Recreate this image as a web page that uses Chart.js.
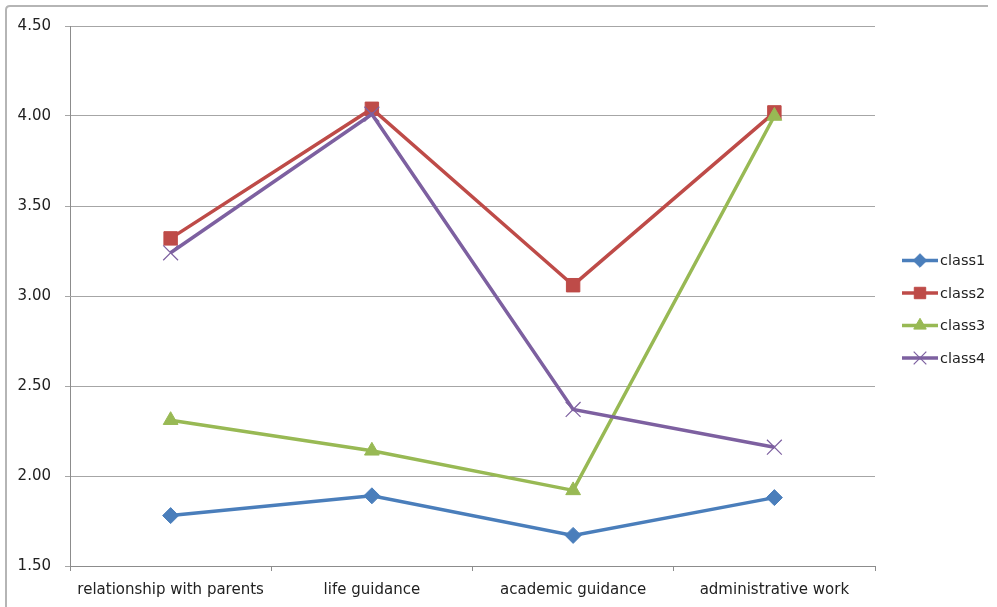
<!DOCTYPE html>
<html>
<head>
<meta charset="utf-8">
<script src="https://cdn.jsdelivr.net/npm/chart.js@4/dist/chart.umd.min.js"></script>
<style>
    html, body { margin: 0; padding: 0; background: #fff; }
    #wrap { width: 997px; height: 607px; }
</style>
</head>
<body>
<div id="wrap"><canvas id="myLineChart" width="997" height="607"></canvas></div>
<script>
const categories = ['relationship with parents', 'life guidance', 'academic guidance', 'administrative work'];
const seriesNames = ['class1', 'class2', 'class3', 'class4'];
const class1 = [1.78, 1.89, 1.67, 1.88];
const class2 = [3.32, 4.04, 3.06, 4.02];
const class3 = [2.31, 2.14, 1.92, 4.00];
const class4 = [3.24, 4.01, 2.37, 2.16];
const yTicks = [1.5, 2.0, 2.5, 3.0, 3.5, 4.0, 4.5];

const colors = ['#4A7EBB', '#BE4B48', '#98B954', '#7D60A0'];
const markers = ['rectRot', 'rect', 'triangle', 'crossRot'];
const radii = [8, 9.5, 8.5, 10.5];
const markerBorder = [1, 1, 1, 1.2];

const fontFamily = '"DejaVu Sans", sans-serif';

function makeSet(i, data) {
    return {
        label: seriesNames[i],
        data: data,
        borderColor: colors[i],
        backgroundColor: colors[i],
        borderWidth: 3.5,
        tension: 0,
        fill: false,
        pointStyle: markers[i],
        pointRadius: radii[i],
        pointHoverRadius: radii[i],
        pointBackgroundColor: colors[i],
        pointBorderColor: colors[i],
        pointBorderWidth: markerBorder[i],
        order: 4 - i
    };
}

// frame + legend drawn like the excel chart
const excelBits = {
    id: 'excelBits',
    afterDraw(chart) {
        const ctx = chart.ctx;
        ctx.save();
        ctx.strokeStyle = '#b5b5b5';
        ctx.lineWidth = 2;
        ctx.beginPath();
        ctx.moveTo(6, 607);
        ctx.lineTo(6, 10);
        ctx.quadraticCurveTo(6, 6, 10, 6);
        ctx.lineTo(988, 6);
        ctx.stroke();

        const sets = chart.data.datasets;
        const top = 260.5;
        const gap = 32.5;
        ctx.font = '14.5px ' + fontFamily;
        ctx.textBaseline = 'middle';
        ctx.textAlign = 'left';
        sets.forEach((ds, i) => {
            const y = top + i * gap;
            ctx.strokeStyle = ds.borderColor;
            ctx.lineWidth = 3.5;
            ctx.beginPath();
            ctx.moveTo(902, y);
            ctx.lineTo(938, y);
            ctx.stroke();
            ctx.fillStyle = ds.pointBackgroundColor;
            ctx.strokeStyle = ds.pointBorderColor;
            ctx.lineWidth = ds.pointBorderWidth;
            Chart.helpers.drawPoint(ctx, {
                pointStyle: ds.pointStyle,
                radius: ds.pointRadius * 0.85,
                rotation: 0,
                borderWidth: ds.pointBorderWidth
            }, 920, y);
            ctx.fillStyle = '#222';
            ctx.fillText(ds.label, 940, y + 1);
        });
        ctx.restore();
    }
};

const ctx = document.getElementById('myLineChart').getContext('2d');
const myLineChart = new Chart(ctx, {
    type: 'line',
    data: {
        labels: categories,
        datasets: [
            makeSet(0, class1),
            makeSet(1, class2),
            makeSet(2, class3),
            makeSet(3, class4)
        ]
    },
    options: {
        responsive: false,
        animation: false,
        layout: {
            padding: { top: 26, right: 122, bottom: 0, left: 0 }
        },
        scales: {
            x: {
                offset: true,
                grid: {
                    offset: true,
                    drawOnChartArea: false,
                    drawTicks: true,
                    tickLength: 5,
                    color: '#8c8c8c'
                },
                border: { color: '#8c8c8c', width: 1 },
                ticks: {
                    color: '#222',
                    padding: 10,
                    maxRotation: 0,
                    autoSkip: false,
                    font: { family: fontFamily, size: 15 }
                },
                afterFit(scale) { scale.height = 41; }
            },
            y: {
                min: 1.5,
                max: 4.5,
                afterBuildTicks(scale) {
                    scale.ticks = yTicks.map(v => ({ value: v }));
                },
                grid: {
                    color: '#a6a6a6',
                    lineWidth: 1,
                    tickLength: 5
                },
                border: { color: '#8c8c8c', width: 1 },
                ticks: {
                    color: '#222',
                    padding: 14,
                    font: { family: fontFamily, size: 15 },
                    callback: value => Number(value).toFixed(2)
                },
                afterFit(scale) { scale.width = 70; }
            }
        },
        plugins: {
            legend: { display: false },
            tooltip: { enabled: false }
        }
    },
    plugins: [excelBits]
});
</script>
</body>
</html>
